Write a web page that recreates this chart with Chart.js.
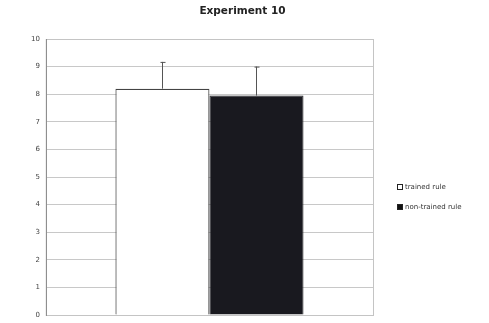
<!DOCTYPE html>
<html>
<head>
<meta charset="utf-8">
<script src="https://cdn.jsdelivr.net/npm/chart.js@4.4.0/dist/chart.umd.min.js"></script>
<style>
  html, body { margin: 0; padding: 0; background: #fff; }
  #wrap { width: 489px; height: 323px; }
</style>
</head>
<body>
<div id="wrap"><canvas id="chart" width="489" height="323"></canvas></div>
<script>
const categories = [''];
const seriesNames = ['trained rule', 'non-trained rule'];
const trainedValues = [8.2];
const nonTrainedValues = [7.95];
const trainedErrors = [0.97];
const nonTrainedErrors = [1.05];
const yTicks = [0, 1, 2, 3, 4, 5, 6, 7, 8, 9, 10];
const chartTitle = 'Experiment 10';

const errorArrays = [trainedErrors, nonTrainedErrors];
const legendFills = ['#ffffff', '#111111'];

// frame round the plot area, light grey with a darker left axis
const frame = {
    id: 'frame',
    beforeDatasetsDraw(chart) {
        const { ctx, chartArea: a } = chart;
        ctx.save();
        ctx.strokeStyle = '#c4c4c4';
        ctx.lineWidth = 1;
        ctx.strokeRect(a.left + 0.5, a.top + 0.5, a.right - a.left, a.bottom - a.top);
        ctx.strokeStyle = '#8a8a8a';
        ctx.beginPath();
        ctx.moveTo(a.left + 0.5, a.top);
        ctx.lineTo(a.left + 0.5, a.bottom + 1);
        ctx.stroke();
        ctx.restore();
    }
};

// upward error whiskers with a small cap
const errorBars = {
    id: 'errorBars',
    afterDatasetsDraw(chart) {
        const { ctx } = chart;
        const y = chart.scales.y;
        ctx.save();
        ctx.strokeStyle = '#555';
        ctx.lineWidth = 1;
        chart.data.datasets.forEach((ds, i) => {
            chart.getDatasetMeta(i).data.forEach((bar, j) => {
                const top = y.getPixelForValue(ds.data[j] + errorArrays[i][j]);
                const x = Math.round(bar.x) + 0.5;
                ctx.beginPath();
                ctx.moveTo(x, bar.y);
                ctx.lineTo(x, top);
                ctx.moveTo(x - 2, top + 0.5);
                ctx.lineTo(x + 3, top + 0.5);
                ctx.stroke();
            });
        });
        ctx.restore();
    }
};

// title centred on the whole canvas, legend to the right of the plot
const decorations = {
    id: 'decorations',
    afterDraw(chart) {
        const { ctx, chartArea: a, width } = chart;
        ctx.save();
        ctx.fillStyle = '#222';
        ctx.font = "bold 10.5px 'DejaVu Sans', sans-serif";
        ctx.textAlign = 'center';
        ctx.textBaseline = 'middle';
        ctx.fillText(chartTitle, width / 2 - 2, 11);

        const x = a.right + 24;
        let y = a.top + 148;
        ctx.font = "7px 'DejaVu Sans', sans-serif";
        ctx.textAlign = 'left';
        chart.data.datasets.forEach((ds, i) => {
            ctx.fillStyle = legendFills[i];
            ctx.fillRect(x, y - 3, 6, 6);
            ctx.strokeStyle = '#222';
            ctx.lineWidth = 1;
            ctx.strokeRect(x + 0.5, y - 2.5, 5, 5);
            ctx.fillStyle = '#333';
            ctx.fillText(ds.label, x + 8, y);
            y += 20;
        });
        ctx.restore();
    }
};

new Chart(document.getElementById('chart'), {
    type: 'bar',
    data: {
        labels: categories,
        datasets: [
            {
                label: seriesNames[0],
                data: trainedValues,
                backgroundColor: '#ffffff',
                borderColor: '#444',
                borderWidth: 1.2
            },
            {
                label: seriesNames[1],
                data: nonTrainedValues,
                backgroundColor: '#19191f',
                borderColor: '#19191f',
                borderWidth: 1
            }
        ]
    },
    options: {
        responsive: false,
        animation: false,
        layout: { padding: { top: 39, right: 116, bottom: 0, left: 25 } },
        datasets: { bar: { categoryPercentage: 0.575, barPercentage: 1 } },
        scales: {
            x: { display: false },
            y: {
                min: 0,
                max: 10,
                afterBuildTicks: axis => { axis.ticks = yTicks.map(v => ({ value: v })); },
                // the tick padding would otherwise also push the plot bottom up
                afterFit: axis => { axis.paddingBottom = 8; },
                grid: { color: '#c8c8c8', drawTicks: false },
                border: { display: false },
                ticks: {
                    padding: 6,
                    color: '#444',
                    font: { family: "'DejaVu Sans', sans-serif", size: 7 }
                }
            }
        },
        plugins: {
            title: { display: false },
            legend: { display: false },
            tooltip: { enabled: false }
        }
    },
    plugins: [frame, errorBars, decorations]
});
</script>
</body>
</html>
